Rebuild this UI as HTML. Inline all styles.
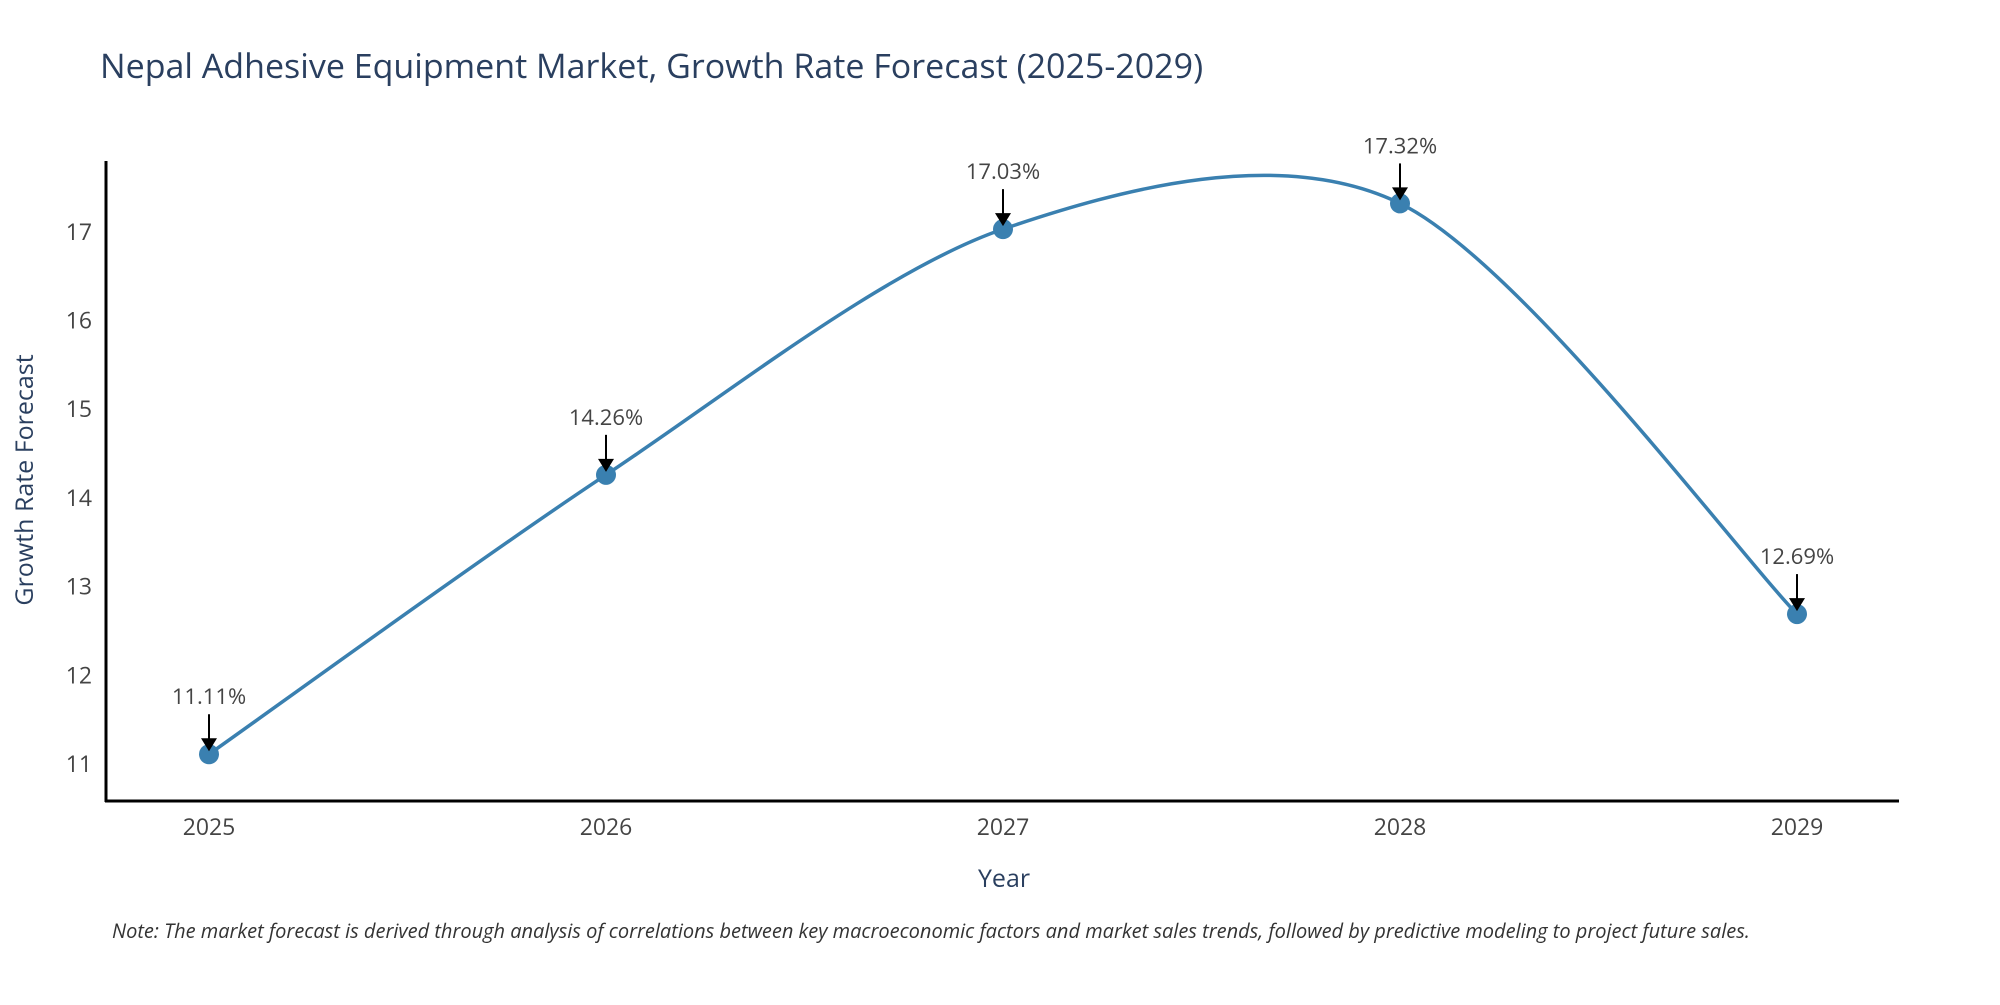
<!DOCTYPE html>
<html><head><meta charset="utf-8"><style>
body{margin:0;background:#fff;}
svg text{font-family:"Open Sans","Liberation Sans",sans-serif;}
</style></head><body>
<svg width="2000" height="1000" xmlns="http://www.w3.org/2000/svg">
<rect width="2000" height="1000" fill="#fff"/>
<text x="100" y="78" font-size="34" fill="#2a3f5f">Nepal Adhesive Equipment Market, Growth Rate Forecast (2025-2029)</text>
<g id="yticks"></g>
<g id="xticks"></g>
<line x1="106" y1="161" x2="106" y2="802" stroke="#000" stroke-width="3"/>
<line x1="105" y1="801" x2="1899" y2="801" stroke="#000" stroke-width="3"/>
<path id="line" fill="none" stroke="#3a80b0" stroke-width="3.5"/>
<g id="marks"></g>
<text x="1004" y="887" font-size="25" fill="#2a3f5f" text-anchor="middle">Year</text>
<text transform="translate(33,480) rotate(-90)" font-size="25" fill="#2a3f5f" text-anchor="middle">Growth Rate Forecast</text>
<text x="112" y="938" font-size="20" font-style="italic" fill="#333">Note: The market forecast is derived through analysis of correlations between key macroeconomic factors and market sales trends, followed by predictive modeling to project future sales.</text>
</svg>
<script>
const years=["2025","2026","2027","2028","2029"];
const values=[11.11,14.26,17.03,17.32,12.69];
const yTicks=[11,12,13,14,15,16,17];
const NS="http://www.w3.org/2000/svg";
function X(i){return 209+i*397;}
function Y(v){return 764-(v-11)*88.7;}
function mk(t,a,p){const e=document.createElementNS(NS,t);for(const k in a)e.setAttribute(k,a[k]);(p||document.querySelector('svg')).appendChild(e);return e;}
const yg=document.getElementById('yticks'),xg=document.getElementById('xticks'),mg=document.getElementById('marks');
yTicks.forEach(v=>{const t=mk('text',{x:92,y:Y(v)+8,'font-size':23,fill:'#444','text-anchor':'end'},yg);t.textContent=v;

});
years.forEach((y,i)=>{const t=mk('text',{x:X(i),y:835,'font-size':23,fill:'#444','text-anchor':'middle'},xg);t.textContent=y;

});
const P=values.map((v,i)=>[X(i),Y(v)]);
const k=0.15;
let d='M'+P[0][0]+','+P[0][1];
for(let i=0;i<P.length-1;i++){const p0=P[Math.max(i-1,0)],p1=P[i],p2=P[i+1],p3=P[Math.min(i+2,P.length-1)];
const c1=[p1[0]+(p2[0]-p0[0])*k,p1[1]+(p2[1]-p0[1])*k],c2=[p2[0]-(p3[0]-p1[0])*k,p2[1]-(p3[1]-p1[1])*k];
d+=' C'+c1+' '+c2+' '+p2;}
document.getElementById('line').setAttribute('d',d);
values.forEach((v,i)=>{const x=X(i),y=Y(v);
const c=mk('circle',{cx:x,cy:y,r:10,fill:'#3a80b0'},mg);


const l=mk('line',{x1:x,y1:y-40,x2:x,y2:y-14,stroke:'#000','stroke-width':2},mg);


const a=mk('polygon',{points:`${x-8},${y-16} ${x+8},${y-16} ${x},${y-3}`,fill:'#000'},mg);


const t=mk('text',{x:x,y:y-50,'font-size':22,fill:'#444','text-anchor':'middle'},mg);t.textContent=v.toFixed(2)+'%';

});
</script>
</body></html>
